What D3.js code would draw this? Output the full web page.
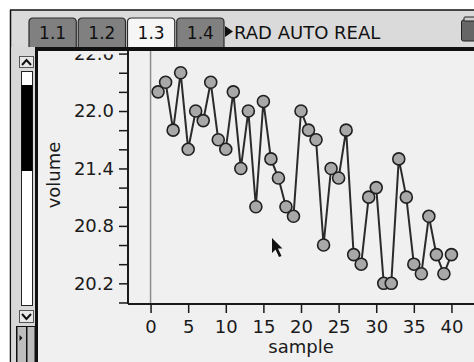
<!DOCTYPE html>
<html>
<head>
<meta charset="utf-8">
<script src="https://cdn.jsdelivr.net/npm/d3@7"></script>
<style>
  body { margin: 0; background: #fff; }
  svg { display: block; font-family: "DejaVu Sans", sans-serif; }
</style>
</head>
<body>
<div id="chart"></div>
<script>
// sample number -> volume
const samples = d3.range(1, 41);
const volume = [22.2, 22.3, 21.8, 22.4, 21.6, 22.0, 21.9, 22.3, 21.7, 21.6,
                22.2, 21.4, 22.0, 21.0, 22.1, 21.5, 21.3, 21.0, 20.9, 22.0,
                21.8, 21.7, 20.6, 21.4, 21.3, 21.8, 20.5, 20.4, 21.1, 21.2,
                20.2, 20.2, 21.5, 21.1, 20.4, 20.3, 20.9, 20.5, 20.3, 20.5];
const xTicks = [0, 5, 10, 15, 20, 25, 30, 35, 40];
const yTicks = d3.range(0, 14).map(i => +(20.0 + i * 0.2).toFixed(1));
const yLabels = [20.2, 20.8, 21.4, 22.0, 22.6];
const tabs = ['1.1', '1.2', '1.3', '1.4'];
const activeTab = '1.3';

const width = 474, height = 362;
const plot = {left: 128, right: 474, top: 51, bottom: 304};

const svg = d3.select('#chart').append('svg')
  .attr('width', width)
  .attr('height', height);

svg.append('rect').attr('width', width).attr('height', height).attr('fill', '#fff');

// the top label is half hidden under the header bar on the handheld
svg.append('defs').append('clipPath').attr('id', 'labelClip')
  .append('rect').attr('x', 0).attr('y', 54).attr('width', width).attr('height', height);

// graph area background
svg.append('rect')
  .attr('x', 38).attr('y', 47)
  .attr('width', width - 38).attr('height', height - 47)
  .attr('fill', '#f0f0f0');

const x = d3.scaleLinear().domain([-3, 43]).range([plot.left, plot.right]);
const y = d3.scaleLinear().domain([19.984, 22.627]).range([plot.bottom, plot.top]);

// vertical line at sample = 0
svg.append('line')
  .attr('x1', x(0)).attr('x2', x(0))
  .attr('y1', plot.top).attr('y2', plot.bottom)
  .attr('stroke', '#8c8c8c').attr('stroke-width', 1.5);

const yAxis = svg.append('g')
  .attr('transform', `translate(${plot.left},0)`)
  .call(d3.axisLeft(y)
    .tickValues(yTicks)
    .tickSize(9)
    .tickPadding(5)
    .tickFormat(d => yLabels.includes(d) ? d3.format('.1f')(d) : ''));

const xAxis = svg.append('g')
  .attr('transform', `translate(0,${plot.bottom})`)
  .call(d3.axisBottom(x)
    .tickValues(xTicks)
    .tickSize(9)
    .tickPadding(7.5));

[xAxis, yAxis].forEach(g => {
  g.select('.domain').attr('stroke', '#1a1a1a').attr('stroke-width', 2);
  g.selectAll('.tick line').attr('stroke', '#1a1a1a').attr('stroke-width', 1.5);
  g.selectAll('.tick text')
    .attr('fill', '#1a1a1a')
    .style('font-size', '18px')
    .style('font-family', '"DejaVu Sans", sans-serif');
});
xAxis.select('.domain').attr('d', `M${plot.left},0H${plot.right}`);
yAxis.select('.domain').attr('d', `M0,${plot.top}V${plot.bottom}`);
yAxis.selectAll('.tick text')
  .attr('clip-path', 'url(#labelClip)');
yAxis.selectAll('.tick')
  .filter(d => d === 22.6)
  .select('text')
  .attr('clip-path', null)
  .each(function() {
    // clip in the tick's own coordinates
    const t = d3.select(this.parentNode);
    const ty = y(22.6);
    t.append('clipPath').attr('id', 'topClip')
      .append('rect').attr('x', -80).attr('y', 54 - ty).attr('width', 80).attr('height', 40);
    d3.select(this).attr('clip-path', 'url(#topClip)');
  });
yAxis.selectAll('.tick text').filter(d => d !== 22.6).attr('clip-path', null);

svg.append('text')
  .attr('x', x(20)).attr('y', 353)
  .attr('text-anchor', 'middle')
  .attr('font-size', 18).attr('fill', '#1a1a1a')
  .text('sample');

svg.append('text')
  .attr('transform', 'translate(60,175) rotate(-90)')
  .attr('text-anchor', 'middle')
  .attr('font-size', 18).attr('fill', '#1a1a1a')
  .text('volume');

const pts = samples.map((s, i) => ({s, v: volume[i]}));

svg.append('path')
  .datum(pts)
  .attr('fill', 'none')
  .attr('stroke', '#2b2b2b')
  .attr('stroke-width', 2)
  .attr('d', d3.line().x(d => x(d.s)).y(d => y(d.v)));

svg.selectAll('.dot')
  .data(pts)
  .enter()
  .append('circle')
  .attr('class', 'dot')
  .attr('cx', d => x(d.s))
  .attr('cy', d => y(d.v))
  .attr('r', 6)
  .attr('fill', '#a8a8a8')
  .attr('stroke', '#202020')
  .attr('stroke-width', 1.6);

// mouse pointer
svg.append('path')
  .attr('transform', 'translate(272,238)')
  .attr('d', 'M0,0 L0,15 L3.5,11.5 L7,19 L9.5,18 L6,10.5 L10.5,10.5 Z')
  .attr('fill', '#111');

/* ---- handheld screen chrome ---- */
const head = svg.append('g');
head.append('rect')
  .attr('x', 11).attr('y', 10).attr('width', width - 11).attr('height', 37)
  .attr('fill', '#dadada');
head.append('line')
  .attr('x1', 10).attr('x2', width).attr('y1', 10).attr('y2', 10)
  .attr('stroke', '#111').attr('stroke-width', 1.5);
head.append('line')
  .attr('x1', 10.5).attr('x2', 10.5).attr('y1', 10).attr('y2', height)
  .attr('stroke', '#111').attr('stroke-width', 1.5);

const tabX = d3.scaleBand().domain(tabs).range([29, 224]).paddingInner(0.04);
const tab = head.selectAll('.tab')
  .data(tabs)
  .enter()
  .append('g')
  .attr('class', 'tab')
  .attr('transform', d => `translate(${tabX(d)},18)`);
tab.append('path')
  .attr('d', `M0,30 V4 Q0,0 4,0 H${tabX.bandwidth() - 4} Q${tabX.bandwidth()},0 ${tabX.bandwidth()},4 V30`)
  .attr('fill', d => d === activeTab ? '#f6f6f6' : '#808080')
  .attr('stroke', '#2a2a2a').attr('stroke-width', 1.2);
tab.append('text')
  .attr('x', tabX.bandwidth() / 2).attr('y', 20.5)
  .attr('text-anchor', 'middle')
  .attr('font-size', 17).attr('fill', '#111')
  .text(d => d);

head.append('path').attr('d', 'M225,26 L233,31.5 L225,37 Z').attr('fill', '#111');
head.append('text')
  .attr('x', 234).attr('y', 39)
  .attr('font-size', 18).attr('fill', '#111')
  .text('RAD AUTO REAL');

// battery icon
head.append('rect')
  .attr('x', 461.5).attr('y', 20).attr('width', 16).attr('height', 21).attr('rx', 2)
  .attr('fill', '#666').attr('stroke', '#222');
head.append('rect')
  .attr('x', 464).attr('y', 17).attr('width', 11).attr('height', 4).attr('rx', 1)
  .attr('fill', '#ccc').attr('stroke', '#222');

// thick bar under the header
head.append('rect')
  .attr('x', 36).attr('y', 47).attr('width', width - 36).attr('height', 4)
  .attr('fill', '#111');

// left scroll bar
const sb = svg.append('g');
sb.append('rect').attr('x', 11.5).attr('y', 47).attr('width', 24).attr('height', height - 47).attr('fill', '#d8d8d8');
sb.append('rect').attr('x', 35).attr('y', 47).attr('width', 3).attr('height', height - 47).attr('fill', '#111');
sb.append('rect').attr('x', 19.5).attr('y', 56.5).attr('width', 14).attr('height', 11)
  .attr('fill', '#e8e8e8').attr('stroke', '#555');
sb.append('path').attr('d', 'M22,65 L26.5,60 L31,65').attr('fill', 'none').attr('stroke', '#111').attr('stroke-width', 2);
sb.append('rect').attr('x', 21.5).attr('y', 71.5).attr('width', 11).attr('height', 234)
  .attr('fill', '#fff').attr('stroke', '#222');
sb.append('rect').attr('x', 21.5).attr('y', 85).attr('width', 11).attr('height', 86).attr('fill', '#000');
sb.append('rect').attr('x', 19.5).attr('y', 310.5).attr('width', 14).attr('height', 12)
  .attr('fill', '#e8e8e8').attr('stroke', '#555');
sb.append('path').attr('d', 'M22,314 L26.5,319 L31,314').attr('fill', 'none').attr('stroke', '#111').attr('stroke-width', 2);
sb.append('rect').attr('x', 16).attr('y', 326).attr('width', 20).attr('height', 36).attr('fill', '#111');
sb.append('rect').attr('x', 17.5).attr('y', 327).attr('width', 8.5).attr('height', 35).attr('fill', '#bdbdbd');
sb.append('rect').attr('x', 27.5).attr('y', 327).attr('width', 7).attr('height', 35).attr('fill', '#bdbdbd');
sb.append('path').attr('d', 'M19.5,335 L22.5,338 L19.5,341 Z').attr('fill', '#111');
</script>
</body>
</html>
